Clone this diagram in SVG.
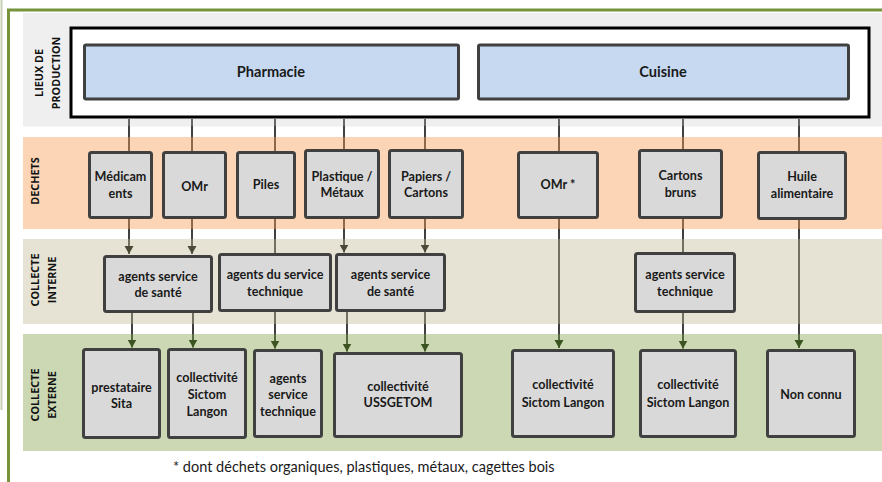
<svg xmlns="http://www.w3.org/2000/svg" width="882" height="482" viewBox="0 0 882 482">
<defs>
<style>
.t{font-family:Lato,"Liberation Sans",sans-serif;font-weight:bold;font-size:12.6px;fill:#1a1a1a;text-anchor:middle}
.big{font-size:14.6px}
.lane{font-family:"Open Sans","Liberation Sans",sans-serif;font-weight:bold;font-size:10.8px;fill:#111;text-anchor:middle}
.box{fill:#d9d9d9;stroke:#404040;stroke-width:3}
.src{fill:#c6d9f1;stroke:#404040;stroke-width:3}
.c{fill:none;stroke:url(#cg);stroke-width:1.5}
.ai{marker-end:url(#ai)}
.ae{marker-end:url(#ae)}
</style>
<linearGradient id="cg" gradientUnits="userSpaceOnUse" x1="0" y1="0" x2="0" y2="482">
<stop offset="0" stop-color="#000"/>
<stop offset="0.0270" stop-color="#000"/>
<stop offset="0.0270" stop-color="#3a3a3a"/>
<stop offset="0.2624" stop-color="#3a3a3a"/>
<stop offset="0.2624" stop-color="#000"/>
<stop offset="0.2842" stop-color="#000"/>
<stop offset="0.2842" stop-color="#6b4423"/>
<stop offset="0.4751" stop-color="#6b4423"/>
<stop offset="0.4751" stop-color="#000"/>
<stop offset="0.4959" stop-color="#000"/>
<stop offset="0.4959" stop-color="#4b4a38"/>
<stop offset="0.6722" stop-color="#4b4a38"/>
<stop offset="0.6722" stop-color="#000"/>
<stop offset="0.6929" stop-color="#000"/>
<stop offset="0.6929" stop-color="#2f4418"/>
<stop offset="1" stop-color="#2f4418"/>
</linearGradient>
<marker id="ai" markerUnits="userSpaceOnUse" markerWidth="10" markerHeight="10" refX="8" refY="4.5" orient="auto">
<path d="M0,0 L8,4.5 L0,9 Z" fill="#4a4935"/>
</marker>
<marker id="ae" markerUnits="userSpaceOnUse" markerWidth="10" markerHeight="10" refX="8" refY="4.5" orient="auto">
<path d="M0,0 L8,4.5 L0,9 Z" fill="#3b5320"/>
</marker>
</defs>
<rect width="882" height="482" fill="#fff"/>
<g id="frame">
<line x1="1.5" y1="0" x2="1.5" y2="410" stroke="#c9d1b5" stroke-width="2"/>
<line x1="7" y1="10" x2="882" y2="10" stroke="#77933c" stroke-width="3"/>
<line x1="8.5" y1="9" x2="8.5" y2="482" stroke="#77933c" stroke-width="3"/>
</g>
<g id="lanes">
<rect x="23" y="13" width="859" height="113.5" fill="#efefef"/>
<rect x="23" y="137" width="859" height="92" fill="#fbd5b5"/>
<rect x="23" y="239" width="859" height="85" fill="#e6e3d4"/>
<rect x="23" y="334" width="859" height="117" fill="#ccd8b4"/>
<text class="lane" transform="translate(42.5,73) rotate(-90)">LIEUX DE</text>
<text class="lane" transform="translate(59.5,73) rotate(-90)">PRODUCTION</text>
<text class="lane" transform="translate(38.5,181) rotate(-90)">DECHETS</text>
<text class="lane" transform="translate(38.5,280) rotate(-90)">COLLECTE</text>
<text class="lane" transform="translate(55.5,280) rotate(-90)">INTERNE</text>
<text class="lane" transform="translate(38.5,395) rotate(-90)">COLLECTE</text>
<text class="lane" transform="translate(55.5,395) rotate(-90)">EXTERNE</text>
</g>
<g id="connectors">
<line class="c" x1="129" y1="119" x2="129" y2="151"/>
<line class="c" x1="192" y1="119" x2="192" y2="151"/>
<line class="c" x1="275" y1="119" x2="275" y2="151"/>
<line class="c" x1="344" y1="119" x2="344" y2="149"/>
<line class="c" x1="425" y1="119" x2="425" y2="149"/>
<line class="c" x1="559" y1="119" x2="559" y2="151"/>
<line class="c" x1="683" y1="119" x2="683" y2="149"/>
<line class="c" x1="799" y1="119" x2="799" y2="151"/>
<line class="c ai" x1="129" y1="219" x2="129" y2="254"/>
<line class="c ai" x1="192" y1="219" x2="192" y2="254"/>
<line class="c" x1="275" y1="219" x2="275" y2="253"/>
<line class="c ai" x1="344" y1="219" x2="344" y2="252.5"/>
<line class="c ai" x1="425" y1="219" x2="425" y2="252.5"/>
<line class="c" x1="683" y1="219" x2="683" y2="252"/>
<line class="c ae" x1="559" y1="219" x2="559" y2="348"/>
<line class="c ae" x1="799" y1="220" x2="799" y2="348"/>
<line class="c ae" x1="132" y1="313" x2="132" y2="347.5"/>
<line class="c ae" x1="193" y1="313" x2="193" y2="347.5"/>
<line class="c ae" x1="275" y1="312" x2="275" y2="348.5"/>
<line class="c ae" x1="347" y1="312" x2="347" y2="351.5"/>
<line class="c ae" x1="425" y1="312" x2="425" y2="351.5"/>
<line class="c ae" x1="683" y1="313" x2="683" y2="348.5"/>
</g>
<g id="production">
<rect x="71" y="28" width="798" height="89" fill="#fff" stroke="#000" stroke-width="3"/>
</g>
<g id="pharmacie">
<rect class="src" x="84.5" y="45" width="374" height="54" rx="1.5"/>
<text class="t big" x="271" y="77">Pharmacie</text>
</g>
<g id="cuisine">
<rect class="src" x="478.5" y="45" width="370" height="54" rx="1.5"/>
<text class="t big" x="663" y="77">Cuisine</text>
</g>
<g id="d-medicaments">
<rect class="box" x="89.5" y="152.5" width="62" height="65" rx="2"/>
<text class="t" x="120.5" y="181">Médicam</text>
<text class="t" x="120.5" y="198">ents</text>
</g>
<g id="d-omr">
<rect class="box" x="163.5" y="152.5" width="62" height="65" rx="2"/>
<text class="t" x="194.5" y="191">OMr</text>
</g>
<g id="d-piles">
<rect class="box" x="237.5" y="152.5" width="57" height="65" rx="2"/>
<text class="t" x="266" y="189">Piles</text>
</g>
<g id="d-plastique">
<rect class="box" x="305.5" y="150.5" width="73" height="67" rx="2"/>
<text class="t" x="342" y="181">Plastique /</text>
<text class="t" x="342" y="197">Métaux</text>
</g>
<g id="d-papiers">
<rect class="box" x="389.5" y="150.5" width="73" height="67" rx="2"/>
<text class="t" x="426" y="181">Papiers /</text>
<text class="t" x="426" y="197">Cartons</text>
</g>
<g id="d-omr2">
<rect class="box" x="518.5" y="152.5" width="79" height="65" rx="2"/>
<text class="t" x="558" y="189">OMr *</text>
</g>
<g id="d-cartons">
<rect class="box" x="639.5" y="150.5" width="82" height="67" rx="2"/>
<text class="t" x="680.5" y="180">Cartons</text>
<text class="t" x="680.5" y="197">bruns</text>
</g>
<g id="d-huile">
<rect class="box" x="758.5" y="152.5" width="87" height="66" rx="2"/>
<text class="t" x="802" y="181">Huile</text>
<text class="t" x="802" y="198">alimentaire</text>
</g>
<g id="i-sante1">
<rect class="box" x="104.5" y="256.5" width="107" height="55" rx="2"/>
<text class="t" x="158" y="281">agents service</text>
<text class="t" x="158" y="297">de santé</text>
</g>
<g id="i-technique1">
<rect class="box" x="219.5" y="254.5" width="111" height="56" rx="2"/>
<text class="t" x="275" y="279">agents du service</text>
<text class="t" x="275" y="296">technique</text>
</g>
<g id="i-sante2">
<rect class="box" x="336.5" y="254.5" width="108" height="56" rx="2"/>
<text class="t" x="390.5" y="279">agents service</text>
<text class="t" x="390.5" y="296">de santé</text>
</g>
<g id="i-technique2">
<rect class="box" x="635.5" y="253.5" width="99" height="58" rx="2"/>
<text class="t" x="685" y="279">agents service</text>
<text class="t" x="685" y="296">technique</text>
</g>
<g id="e-sita">
<rect class="box" x="83.5" y="349.5" width="76" height="88" rx="2"/>
<text class="t" x="121.5" y="392">prestataire</text>
<text class="t" x="121.5" y="408">Sita</text>
</g>
<g id="e-sictom1">
<rect class="box" x="168.5" y="349.5" width="77" height="88" rx="2"/>
<text class="t" x="207" y="382">collectivité</text>
<text class="t" x="207" y="399">Sictom</text>
<text class="t" x="207" y="416">Langon</text>
</g>
<g id="e-agents">
<rect class="box" x="254.5" y="350.5" width="67" height="86" rx="2"/>
<text class="t" x="288" y="383">agents</text>
<text class="t" x="288" y="399">service</text>
<text class="t" x="288" y="416">technique</text>
</g>
<g id="e-ussgetom">
<rect class="box" x="334.5" y="353.5" width="127" height="83" rx="2"/>
<text class="t" x="398" y="391">collectivité</text>
<text class="t" x="398" y="407">USSGETOM</text>
</g>
<g id="e-sictom2">
<rect class="box" x="512.5" y="350.5" width="101" height="86" rx="2"/>
<text class="t" x="563" y="389">collectivité</text>
<text class="t" x="563" y="407">Sictom Langon</text>
</g>
<g id="e-sictom3">
<rect class="box" x="640.5" y="350.5" width="95" height="86" rx="2"/>
<text class="t" x="688" y="389">collectivité</text>
<text class="t" x="688" y="407">Sictom Langon</text>
</g>
<g id="e-nonconnu">
<rect class="box" x="767.5" y="350.5" width="87" height="86" rx="2"/>
<text class="t" x="811" y="399">Non connu</text>
</g>
<g id="footnote">
<text x="173" y="472" font-family="Lato,'Liberation Sans',sans-serif" font-size="14.5" fill="#1a1a1a">* dont déchets organiques, plastiques,  métaux, cagettes bois</text>
</g>
</svg>
